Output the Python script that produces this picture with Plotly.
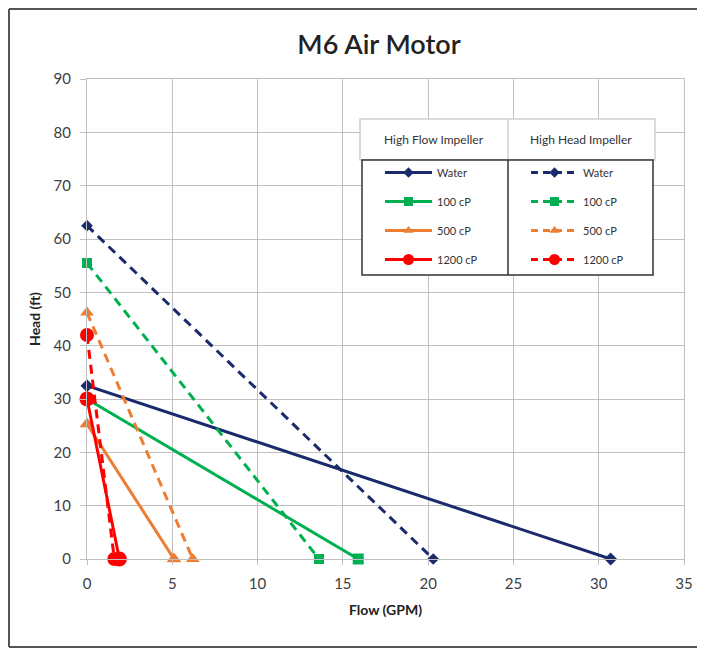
import plotly.graph_objects as go

# Data: (flow GPM, head ft) pairs – shut-off head at 0 flow, max flow at 0 head
fluids = ["Water", "100 cP", "500 cP", "1200 cP"]
hf_flow = [[0, 30.7], [0, 15.9], [0, 5.1], [0, 1.9]]
hf_head = [[32.5, 0], [30.0, 0], [25.3, 0], [30.0, 0]]
hh_flow = [[0, 20.3], [0, 13.6], [0, 6.2], [0, 1.6]]
hh_head = [[62.5, 0], [55.5, 0], [46.2, 0], [42.0, 0]]

colors = ["#1B2A6B", "#00B050", "#ED7D31", "#FF0000"]
symbols = ["diamond", "square", "triangle-up", "circle"]
msizes = [10, 11, 13, 15]
leg_sizes = [8, 9, 9, 11]

FONT = "Lato, 'Open Sans', sans-serif"

fig = go.Figure()
for i, name in enumerate(fluids):
    fig.add_trace(go.Scatter(
        x=hf_flow[i], y=hf_head[i], name=name, mode="lines+markers",
        line=dict(color=colors[i], width=3), cliponaxis=False,
        marker=dict(symbol=symbols[i], size=msizes[i], color=colors[i]),
        showlegend=False))
for i, name in enumerate(fluids):
    fig.add_trace(go.Scatter(
        x=hh_flow[i], y=hh_head[i], name=name, mode="lines+markers",
        line=dict(color=colors[i], width=3, dash="9px,6px"), cliponaxis=False,
        marker=dict(symbol=symbols[i], size=msizes[i] - 1, color=colors[i]),
        showlegend=False))
# legend entries (smaller sample markers like the original)
for i, name in enumerate(fluids):
    fig.add_trace(go.Scatter(
        x=[None], y=[None], name=name, mode="lines+markers",
        line=dict(color=colors[i], width=3),
        marker=dict(symbol=symbols[i], size=leg_sizes[i], color=colors[i]),
        legend="legend", legendgroup="hf" + name))
for i, name in enumerate(fluids):
    fig.add_trace(go.Scatter(
        x=[None], y=[None], name=name, mode="lines+markers",
        line=dict(color=colors[i], width=3, dash="7px,5px"),
        marker=dict(symbol=symbols[i], size=leg_sizes[i], color=colors[i]),
        legend="legend2", legendgroup="hh" + name))

OFF = 8  # page body margin
W, H = 705 - OFF, 650 - OFF
# plot area in page pixels: x 87..684, y 79..559
L, R, T, B = 87 - OFF, W - (684 - OFF), 79 - OFF, H - (559 - OFF)
pw, ph = W - L - R, H - T - B


def px(xp):
    return (xp - OFF - L) / pw


def py(yp):
    return (H - B - (yp - OFF)) / ph


shapes = [
    # outer chart border (left, top, bottom edges; right edge lies outside the picture)
    dict(type="line", xref="paper", yref="paper", x0=px(9), x1=px(9), y0=py(647), y1=py(9),
         line=dict(color="#555555", width=2), layer="above"),
    dict(type="line", xref="paper", yref="paper", x0=px(9), x1=px(720), y0=py(9), y1=py(9),
         line=dict(color="#555555", width=2), layer="above"),
    dict(type="line", xref="paper", yref="paper", x0=px(9), x1=px(720), y0=py(647), y1=py(647),
         line=dict(color="#555555", width=2), layer="above"),
    # legend header box
    dict(type="rect", xref="paper", yref="paper", x0=px(360), x1=px(655), y0=py(160), y1=py(119),
         line=dict(color="#D0D0D0", width=1.5), fillcolor="white", layer="above"),
    dict(type="line", xref="paper", yref="paper", x0=px(508), x1=px(508), y0=py(160), y1=py(119),
         line=dict(color="#D0D0D0", width=1.5), layer="above"),
    # legend body box
    dict(type="rect", xref="paper", yref="paper", x0=px(362), x1=px(653), y0=py(275), y1=py(160),
         line=dict(color="#333333", width=1.5), fillcolor="white", layer="above"),
    dict(type="line", xref="paper", yref="paper", x0=px(508), x1=px(508), y0=py(275), y1=py(160),
         line=dict(color="#333333", width=1.5), layer="above"),
]

annotations = [
    dict(text="High Flow Impeller", xref="paper", yref="paper", x=px(434), y=py(139),
         xanchor="center", yanchor="middle",
         showarrow=False, font=dict(family=FONT, size=12, color="#333333")),
    dict(text="High Head Impeller", xref="paper", yref="paper", x=px(581), y=py(139),
         xanchor="center", yanchor="middle",
         showarrow=False, font=dict(family=FONT, size=12, color="#333333")),
]

legend_common = dict(bgcolor="rgba(0,0,0,0)", borderwidth=0, tracegroupgap=10,
                     font=dict(family=FONT, size=11, color="#333333"),
                     xanchor="left", yanchor="top", itemwidth=47, traceorder="grouped")

fig.update_layout(
    width=W, height=H,
    margin=dict(l=L, r=R, t=T, b=B),
    paper_bgcolor="white", plot_bgcolor="white",
    font=dict(family=FONT, color="#333333"),
    title=dict(text="M6 Air Motor", xref="paper", x=px(379), xanchor="center",
               y=1 - (45 - OFF) / H, yanchor="middle",
               font=dict(family=FONT, size=27, color="#222222", weight=600)),
    xaxis=dict(range=[0, 35], dtick=5, showgrid=True, gridcolor="#BFBFBF", gridwidth=1,
               showline=True, linecolor="#BFBFBF", linewidth=1, mirror=True,
               ticks="outside", ticklen=5, tickcolor="#BFBFBF", zeroline=False,
               ticklabelstandoff=6,
               tickfont=dict(family=FONT, size=15, color="#404040"),
               title=dict(text="<b>Flow (GPM)</b>", font=dict(family=FONT, size=14, color="#222222"),
                          standoff=14)),
    yaxis=dict(range=[0, 90], dtick=10, showgrid=True, gridcolor="#BFBFBF", gridwidth=1,
               showline=True, linecolor="#BFBFBF", linewidth=1, mirror=True,
               ticks="outside", ticklen=6, tickcolor="#BFBFBF", zeroline=False,
               ticklabelstandoff=6,
               tickfont=dict(family=FONT, size=15, color="#404040"),
               title=dict(text="<b>Head (ft)</b>", font=dict(family=FONT, size=14, color="#222222"),
                          standoff=9)),
    legend=dict(x=px(380), y=py(158), **legend_common),
    legend2=dict(x=px(526), y=py(158), **legend_common),
    shapes=shapes,
    annotations=annotations,
)

fig.write_html("out.html")
